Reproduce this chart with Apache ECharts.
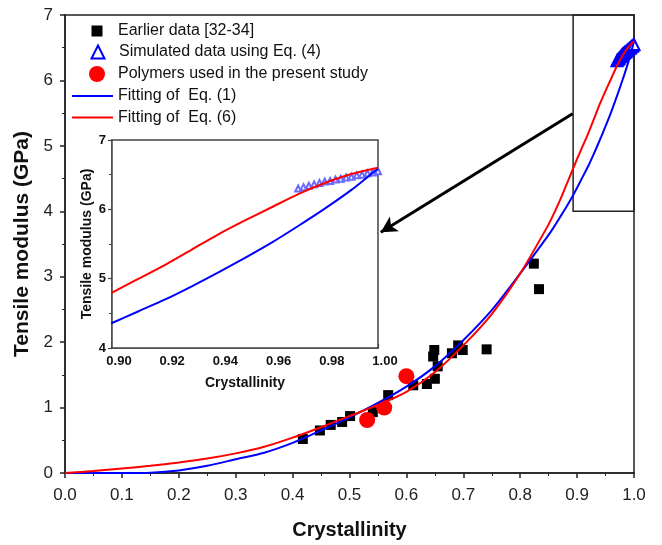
<!DOCTYPE html>
<html>
<head>
<meta charset="utf-8">
<script src="https://cdn.jsdelivr.net/npm/echarts@6/dist/echarts.min.js"></script>
<style>html,body{margin:0;padding:0;background:#fff}#c{width:662px;height:545px}</style>
</head>
<body>
<div id="c"></div>
<script>
// ---- data ----
const earlierX = [0.418,0.448,0.467,0.487,0.501,0.541,0.568,0.612,0.636,0.650,0.655,0.647,0.649,0.680,0.691,0.699,0.741,0.824,0.833];
const earlierY = [0.52,0.65,0.735,0.78,0.87,0.93,1.19,1.34,1.36,1.44,1.63,1.78,1.88,1.83,1.95,1.88,1.89,3.20,2.81];
const polymerX = [0.531,0.561,0.600];
const polymerY = [0.81,1.00,1.48];
const simX = [0.970,0.972,0.974,0.976,0.978,0.980,0.982,0.984,0.986,0.988,0.990,0.992,0.994,0.996,0.998,1.000];
const simY = [6.30,6.32,6.34,6.36,6.38,6.40,6.41,6.43,6.44,6.46,6.47,6.49,6.50,6.52,6.53,6.55];
const fitX = [0,0.05,0.1,0.15,0.2,0.25,0.3,0.35,0.4,0.45,0.5,0.55,0.6,0.65,0.7,0.75,0.8,0.85,
              0.86,0.87,0.88,0.89,0.90,0.91,0.92,0.93,0.94,0.95,0.96,0.97,0.98,0.99,1.00];
const eq1Fit = [0,0,0,0.005,0.04,0.11,0.21,0.31,0.46,0.65,0.85,1.07,1.32,1.63,2.03,2.49,3.05,3.64,
                3.77,3.91,4.05,4.20,4.36,4.53,4.70,4.89,5.09,5.30,5.52,5.76,6.01,6.28,6.59];
const eq6Fit = [0,0.03,0.07,0.11,0.16,0.22,0.30,0.40,0.54,0.70,0.87,1.04,1.24,1.54,1.95,2.43,3.05,3.80,
                3.98,4.17,4.38,4.59,4.80,5.00,5.20,5.42,5.64,5.84,6.03,6.22,6.38,6.51,6.60];
const zoomBoxX = [0.893, 1.0];
const zoomBoxY = [4.0, 7.0];
const arrowFrom = [0.892, 5.49];
const arrowTo = [0.555, 3.68];
const names = ['Earlier data [32-34]','Simulated data using Eq. (4)','Polymers used in the present study','Fitting of  Eq. (1)','Fitting of  Eq. (6)'];

const pairs = (xs, ys) => xs.map((x, i) => [x, ys[i]]);

const FONT = 'Liberation Sans, Arial, sans-serif';
const AX = '#222';

function markerLegend(name, size, centerY) {
  return {data: [name], orient: 'vertical', left: 97 - size / 2, top: centerY - 9, padding: 0,
    itemWidth: size, itemHeight: size,
    textStyle: {fontFamily: FONT, fontSize: 16, color: '#111', lineHeight: 18, padding: [0, 0, 0, 118 - (97 + size / 2) - 5]},
    selectedMode: false};
}

const chart = echarts.init(document.getElementById('c'), null, {renderer: 'canvas'});
chart.setOption({
  animation: false,
  backgroundColor: '#fff',
  textStyle: {fontFamily: FONT},
  grid: [
    {left: 65, right: 28, top: 15, bottom: 70, show: true, borderColor: AX, borderWidth: 1.5, backgroundColor: 'transparent'},
    {left: 112, top: 140, width: 266, height: 208, show: true, borderColor: '#444', borderWidth: 1.5, backgroundColor: '#fff', z: 5}
  ],
  legend: [
    markerLegend(names[0], 11, 31),
    markerLegend(names[1], 13, 52),
    markerLegend(names[2], 16, 74),
    {data: names.slice(3).map(n => ({name: n, icon: 'rect'})), orient: 'vertical', left: 72, top: 87, padding: 0,
     itemWidth: 41, itemHeight: 2.2, itemGap: 3.5,
     textStyle: {fontFamily: FONT, fontSize: 16, color: '#111', lineHeight: 18}, selectedMode: false}
  ],
  xAxis: [
    {gridIndex: 0, type: 'value', min: 0, max: 1, interval: 0.1,
     name: 'Crystallinity', nameLocation: 'middle', nameGap: 47,
     nameTextStyle: {fontFamily: FONT, fontSize: 20, fontWeight: 'bold', color: '#111'},
     axisLine: {lineStyle: {color: AX, width: 1.5}},
     axisTick: {show: true, inside: false, length: 5, lineStyle: {color: AX, width: 1.5}},
     minorTick: {show: true, splitNumber: 2, length: 3, lineStyle: {color: AX, width: 1}},
     axisLabel: {fontFamily: FONT, fontSize: 17, color: '#222', margin: 14, formatter: v => v.toFixed(1)},
     splitLine: {show: false}},
    {gridIndex: 1, type: 'value', min: 0.9, max: 1.0, interval: 0.02,
     name: 'Crystallinity', nameLocation: 'middle', nameGap: 28,
     nameTextStyle: {fontFamily: FONT, fontSize: 14, fontWeight: 'bold', color: '#111'},
     axisLine: {lineStyle: {color: '#444', width: 1.5}},
     axisTick: {show: true, inside: true, length: 4, lineStyle: {color: '#444', width: 1.2}},
     minorTick: {show: true, splitNumber: 2, length: 3, lineStyle: {color: '#444', width: 1}},
     axisLabel: {fontFamily: FONT, fontSize: 13, fontWeight: 'bold', color: '#111', margin: 7,
       padding: [0, 0, 0, 14], formatter: v => v.toFixed(2)},
     splitLine: {show: false}}
  ],
  yAxis: [
    {gridIndex: 0, type: 'value', min: 0, max: 7, interval: 1,
     name: 'Tensile modulus (GPa)', nameLocation: 'middle', nameGap: 29,
     nameTextStyle: {fontFamily: FONT, fontSize: 21, fontWeight: 'bold', color: '#111'},
     axisLine: {lineStyle: {color: AX, width: 1.5}},
     axisTick: {show: true, inside: false, length: 5, lineStyle: {color: AX, width: 1.5}},
     minorTick: {show: true, splitNumber: 2, length: 3, lineStyle: {color: AX, width: 1}},
     axisLabel: {fontFamily: FONT, fontSize: 17, color: '#222', margin: 12},
     splitLine: {show: false}},
    {gridIndex: 1, type: 'value', min: 4, max: 7, interval: 1,
     name: 'Tensile modulus (GPa)', nameLocation: 'middle', nameGap: 18,
     nameTextStyle: {fontFamily: FONT, fontSize: 14, fontWeight: 'bold', color: '#111'},
     axisLine: {lineStyle: {color: '#444', width: 1.5}},
     axisTick: {show: true, inside: false, length: 4, lineStyle: {color: '#444', width: 1.2}},
     minorTick: {show: true, splitNumber: 2, length: 3, lineStyle: {color: '#444', width: 1}},
     axisLabel: {fontFamily: FONT, fontSize: 13, fontWeight: 'bold', color: '#111', margin: 6},
     splitLine: {show: false}}
  ],
  series: [
    {name: names[0], type: 'scatter', xAxisIndex: 0, yAxisIndex: 0, symbol: 'rect', symbolSize: 10,
     itemStyle: {color: '#000', opacity: 1}, data: pairs(earlierX, earlierY), z: 2,
     markArea: {silent: true, itemStyle: {color: 'rgba(0,0,0,0)', borderColor: '#222', borderWidth: 1.5},
       data: [[{coord: [zoomBoxX[0], zoomBoxY[0]]}, {coord: [zoomBoxX[1], zoomBoxY[1]]}]]},
     markLine: {silent: true, symbol: ['none', 'arrow'], symbolSize: [13, 16], label: {show: false},
       lineStyle: {color: '#000', width: 3, type: 'solid'},
       data: [[{coord: arrowFrom}, {coord: arrowTo}]]}},
    {name: names[1], type: 'scatter', xAxisIndex: 0, yAxisIndex: 0, symbol: 'emptyTriangle', symbolSize: 11,
     itemStyle: {color: '#0000ff', borderWidth: 1, opacity: 1}, data: pairs(simX, simY), z: 3},
    {name: names[2], type: 'scatter', xAxisIndex: 0, yAxisIndex: 0, symbol: 'circle', symbolSize: 16,
     itemStyle: {color: '#ff0000', opacity: 1}, data: pairs(polymerX, polymerY), z: 3},
    {name: names[3], type: 'line', xAxisIndex: 0, yAxisIndex: 0, symbol: 'none', showSymbol: false, smooth: 0.25,
     lineStyle: {color: '#0000ff', width: 2}, itemStyle: {color: '#0000ff'}, data: pairs(fitX, eq1Fit), z: 4},
    {name: names[4], type: 'line', xAxisIndex: 0, yAxisIndex: 0, symbol: 'none', showSymbol: false, smooth: 0.25,
     lineStyle: {color: '#ff0000', width: 2}, itemStyle: {color: '#ff0000'}, data: pairs(fitX, eq6Fit), z: 4},
    {name: 'inset-sim', type: 'scatter', xAxisIndex: 1, yAxisIndex: 1, symbol: 'emptyTriangle', symbolSize: 6,
     itemStyle: {color: '#6a6aff', borderWidth: 0.6, opacity: 1}, data: pairs(simX, simY), z: 6},
    {name: 'inset-eq1', type: 'line', xAxisIndex: 1, yAxisIndex: 1, symbol: 'none', showSymbol: false, smooth: 0.25,
     lineStyle: {color: '#0000ff', width: 2}, data: pairs(fitX, eq1Fit), z: 7, clip: true},
    {name: 'inset-eq6', type: 'line', xAxisIndex: 1, yAxisIndex: 1, symbol: 'none', showSymbol: false, smooth: 0.25,
     lineStyle: {color: '#ff0000', width: 2}, data: pairs(fitX, eq6Fit), z: 7, clip: true}
  ]
});
</script>
</body>
</html>
